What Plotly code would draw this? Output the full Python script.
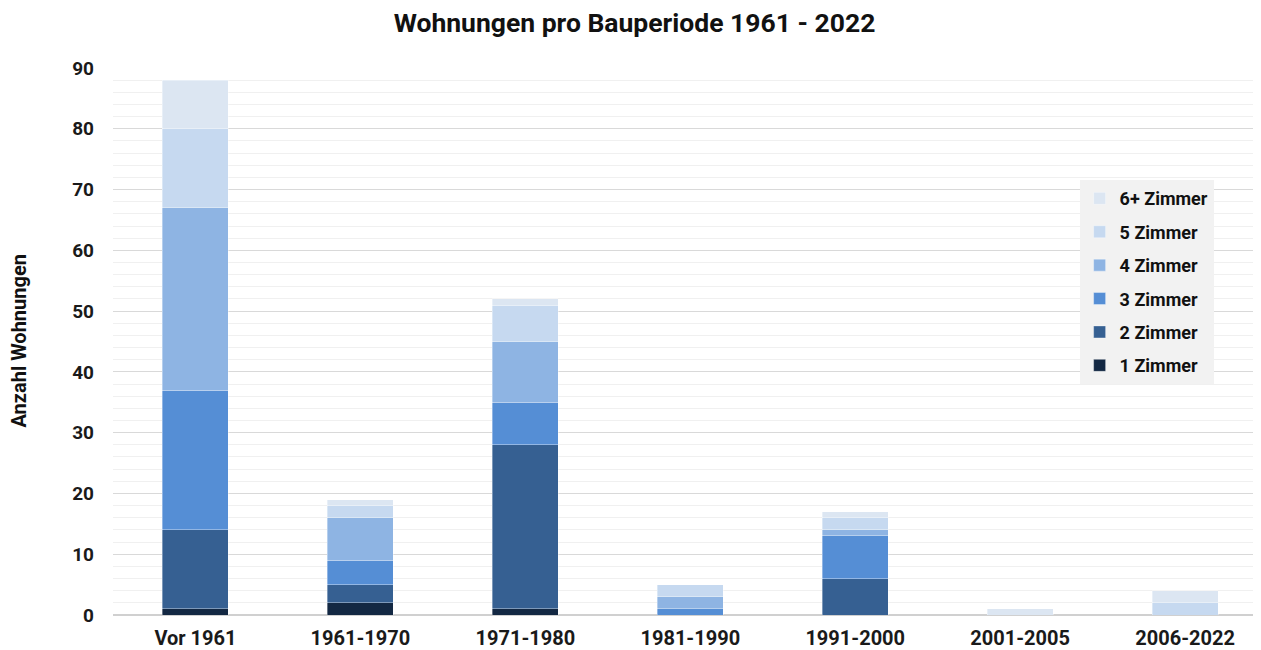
import plotly.graph_objects as go

categories = ["Vor 1961", "1961-1970", "1971-1980", "1981-1990", "1991-2000", "2001-2005", "2006-2022"]
series_names = ["1 Zimmer", "2 Zimmer", "3 Zimmer", "4 Zimmer", "5 Zimmer", "6+ Zimmer"]

zimmer_1 = [1, 2, 1, 0, 0, 0, 0]
zimmer_2 = [13, 3, 27, 0, 6, 0, 0]
zimmer_3 = [23, 4, 7, 1, 7, 0, 0]
zimmer_4 = [30, 7, 10, 2, 1, 0, 0]
zimmer_5 = [13, 2, 6, 2, 2, 0, 2]
zimmer_6 = [8, 1, 1, 0, 1, 1, 2]

colors = ["#132843", "#366092", "#558ed5", "#8eb4e3", "#c6d9f0", "#dce6f2"]


def main():
    fig = go.Figure()
    values = [zimmer_1, zimmer_2, zimmer_3, zimmer_4, zimmer_5, zimmer_6]
    for i, name in enumerate(series_names):
        fig.add_bar(x=categories, y=values[i], name=name, marker_color=colors[i],
                    marker_line=dict(width=0.6, color="rgba(255,255,255,0.6)"),
                    legendgroup=name, legendrank=len(series_names) - i)

    # the page body has an 8px margin, so the figure is sized to fit the window
    font = "Roboto, Arial, sans-serif"
    fig.update_layout(
        barmode="stack", bargap=0.6,
        width=1253, height=642,
        margin=dict(l=105, r=0, t=60, b=35),
        plot_bgcolor="white", paper_bgcolor="white",
        font=dict(family=font, color="#1a1a1a"),
        title=dict(text="<b>Wohnungen pro Bauperiode 1961 - 2022</b>", x=0.5, xanchor="center",
                   y=1 - 5 / 642, yanchor="top", yref="container",
                   font=dict(size=26.5, color="#111111")),
        legend=dict(x=0.842, y=0.795, xanchor="left", yanchor="top", bgcolor="#f2f2f2",
                    traceorder="grouped", tracegroupgap=7, itemwidth=30,
                    font=dict(size=18, color="#111111", weight="bold")),
    )
    fig.add_annotation(text="<b>Anzahl Wohnungen</b>", textangle=-90, xref="paper", yref="paper",
                       x=(18 - 113) / 1148, y=0.5, xanchor="center", yanchor="middle",
                       showarrow=False, font=dict(size=20, color="#111111"))
    fig.update_yaxes(range=[0, 90], dtick=10, showgrid=True, gridcolor="#d9d9d9",
                     minor=dict(dtick=2, showgrid=True, gridcolor="#f0f0f0"),
                     tickfont=dict(size=19, weight="bold"), ticklabelstandoff=18,
                     automargin=False,
                     zeroline=True, zerolinecolor="#d0d0d0")
    fig.update_xaxes(tickfont=dict(size=20, weight="bold"), ticklabelstandoff=5,
                     automargin=False,
                     showline=True, linecolor="#d0d0d0", range=[-0.5, 6.46])

    fig.write_html("out.html")


if __name__ == "__main__":
    main()
